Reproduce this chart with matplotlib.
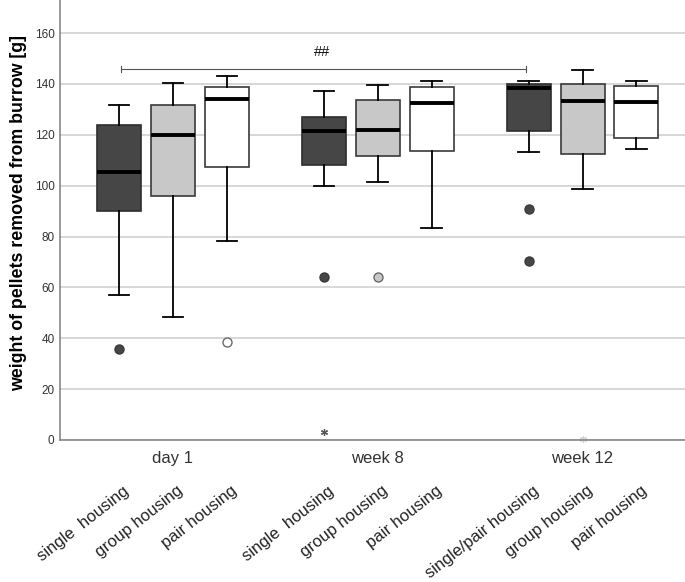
import numpy as np
import matplotlib.pyplot as plt
import matplotlib.transforms as mtransforms

plt.rcParams['font.family'] = ['Liberation Sans', 'DejaVu Sans']

# time points and housing conditions
groups = ['day 1', 'week 8', 'week 12']
housing = ['single  housing', 'group housing', 'pair housing',
           'single  housing', 'group housing', 'pair housing',
           'single/pair housing', 'group housing', 'pair housing']

# box statistics (g)
whislo = [57.2, 48.3, 78.3, 99.8, 101.4, 83.4, 113.3, 98.6, 114.5]
q1 = [90.2, 96.0, 107.3, 108.2, 111.6, 113.8, 121.6, 112.5, 118.8]
med = [105.2, 120.0, 134.0, 121.3, 122.0, 132.4, 138.5, 133.2, 133.0]
q3 = [123.8, 131.8, 138.9, 126.9, 133.7, 138.9, 139.9, 140.0, 139.1]
whishi = [131.7, 140.2, 143.2, 137.4, 139.5, 141.0, 141.0, 145.6, 141.0]
outliers = [[35.9], [], [38.4], [63.9], [64.1], [], [91.0, 70.3], [], []]
extremes = [[], [], [], [3.0], [], [], [], [0.3], []]

# significance bracket day 1 single vs week 12 single/pair
sig_text = '##'
sig_y = 145.8

# styles
fills = ['#464646', '#c8c8c8', '#ffffff']
edges = ['#2e2e2e', '#3a3a3a', '#3a3a3a']
flier_edges = ['#3a3a3a', '#6a6a6a', '#6a6a6a']
star_colors = ['#555555', '#d0d0d0', '#d0d0d0']
offset = 0.263
width = 0.215

positions = []
for g in range(len(groups)):
    for k in range(3):
        positions.append(g + (k - 1) * offset)

fig = plt.figure(figsize=(6.85, 5.82), dpi=100)
ax = fig.add_axes([0.0876, 0.244, 0.9124, 0.756])

ax.set_axisbelow(True)
ax.yaxis.grid(True, color='#d4d4d4', lw=1.3)

stats = []
for i in range(len(housing)):
    stats.append(dict(whislo=whislo[i], q1=q1[i], med=med[i], q3=q3[i],
                      whishi=whishi[i], fliers=[]))

for i, st in enumerate(stats):
    k = i % 3
    ax.bxp([st], positions=[positions[i]], widths=width, capwidths=0.1,
           patch_artist=True, showfliers=False,
           boxprops=dict(facecolor=fills[k], edgecolor=edges[k], lw=1.2),
           medianprops=dict(color='black', lw=2.8),
           whiskerprops=dict(color='black', lw=1.3),
           capprops=dict(color='black', lw=1.3),
           manage_ticks=False)
    if outliers[i]:
        ax.plot([positions[i]] * len(outliers[i]), outliers[i], 'o',
                ms=6.5, mfc=fills[k], mec=flier_edges[k], mew=1.0,
                clip_on=False)
    if extremes[i]:
        ax.plot([positions[i]] * len(extremes[i]), extremes[i],
                marker=(6, 2, 0), ls='none', ms=5, mew=0.9,
                color=star_colors[k], clip_on=False)

# significance bracket
x0 = positions[0] + 0.01
x1 = positions[6] - 0.015
ax.plot([x0, x1], [sig_y, sig_y], color='#555555', lw=0.8)
ax.plot([x0, x0], [sig_y - 1.3, sig_y + 1.3], color='#555555', lw=0.8)
ax.plot([x1, x1], [sig_y - 1.3, sig_y + 1.3], color='#555555', lw=0.8)
ax.text(0.73, sig_y + 6.6, sig_text, ha='center', va='center',
        fontsize=10.5, color='#111111')

ax.set_xlim(-0.551, 2.5)
ax.set_ylim(0, 173)
ax.set_yticks(np.arange(0, 161, 20))
ax.tick_params(axis='y', length=0, labelsize=8.5, colors='#333333', pad=4)

ax.set_xticks(positions)
ax.set_xticklabels(housing, rotation=38, ha='right', va='top',
                   rotation_mode='anchor', fontsize=12, color='#222222')
ax.tick_params(axis='x', length=0, pad=31)
shift = mtransforms.ScaledTranslation(4 / 100, 0, fig.dpi_scale_trans)
for lbl in ax.get_xticklabels():
    lbl.set_transform(lbl.get_transform() + shift)

trans = mtransforms.blended_transform_factory(ax.transData, ax.transAxes)
for g, name in enumerate(groups):
    ax.text(g, -0.041, name, transform=trans, ha='center', va='center',
            fontsize=12, color='#333333')

ax.set_ylabel('weight of pellets removed from burrow [g]', fontsize=12.8,
              fontweight='bold')
ax.yaxis.set_label_coords(-0.052, 0.515)

for s in ['top', 'right']:
    ax.spines[s].set_visible(False)
for s in ['left', 'bottom']:
    ax.spines[s].set_color('#888888')
    ax.spines[s].set_linewidth(1.2)

fig.savefig('out.png', dpi=100)
